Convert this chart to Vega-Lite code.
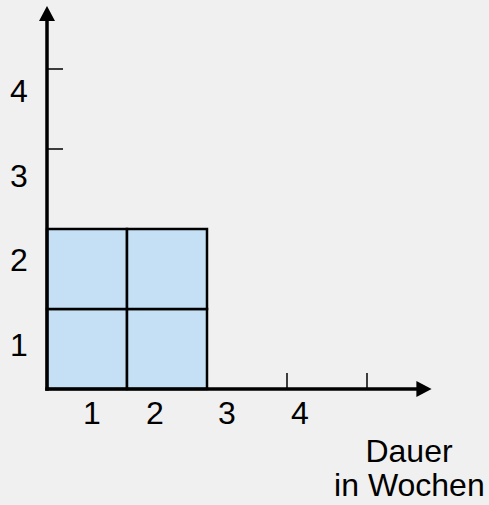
{
  "$schema": "https://vega.github.io/schema/vega-lite/v6.json",
  "width": 489,
  "height": 505,
  "autosize": "none",
  "padding": 0,
  "background": "#f0f0f0",
  "config": {"view": {"stroke": null}},
  "datasets": {
    "cells": [
      {"x0": 0, "x1": 1, "y0": 0, "y1": 1},
      {"x0": 1, "x1": 2, "y0": 0, "y1": 1},
      {"x0": 0, "x1": 1, "y0": 1, "y1": 2},
      {"x0": 1, "x1": 2, "y0": 1, "y1": 2}
    ],
    "axes": [
      {"x0": 0, "x1": 4.65, "y0": 0, "y1": 0},
      {"x0": 0, "x1": 0, "y0": 0, "y1": 4.62}
    ],
    "ticks": [
      {"x0": 3, "x1": 3, "y0": 0, "y1": 0.2},
      {"x0": 4, "x1": 4, "y0": 0, "y1": 0.2},
      {"x0": 0, "x1": 0.2, "y0": 3, "y1": 3},
      {"x0": 0, "x1": 0.2, "y0": 4, "y1": 4}
    ],
    "arrows": [
      {"x": 4.7125, "y": 0, "dir": "right"},
      {"x": 0, "y": 4.694, "dir": "up"}
    ],
    "labels": [
      {"x": 0.5625, "y": -0.4375, "text": "1"},
      {"x": 1.35, "y": -0.4375, "text": "2"},
      {"x": 2.25, "y": -0.4375, "text": "3"},
      {"x": 3.1625, "y": -0.4375, "text": "4"},
      {"x": -0.35, "y": 0.4125, "text": "1"},
      {"x": -0.35, "y": 1.475, "text": "2"},
      {"x": -0.35, "y": 2.525, "text": "3"},
      {"x": -0.35, "y": 3.5875, "text": "4"},
      {"x": 4.525, "y": -0.9125, "text": "Dauer"},
      {"x": 4.53, "y": -1.3375, "text": "in Wochen"}
    ]
  },
  "encoding": {},
  "layer": [
    {
      "data": {"name": "cells"},
      "mark": {"type": "rect", "fill": "#c5e0f4", "stroke": "#000000", "strokeWidth": 2.5},
      "encoding": {
        "x": {"field": "x0", "type": "quantitative", "scale": {"domain": [-0.5875, 5.525], "nice": false, "zero": false}, "axis": null},
        "x2": {"field": "x1"},
        "y": {"field": "y0", "type": "quantitative", "scale": {"domain": [-1.45, 4.8625], "nice": false, "zero": false}, "axis": null},
        "y2": {"field": "y1"}
      }
    },
    {
      "data": {"name": "axes"},
      "mark": {"type": "rule", "color": "#000000", "strokeWidth": 3.5, "strokeCap": "square"},
      "encoding": {
        "x": {"field": "x0", "type": "quantitative"},
        "x2": {"field": "x1"},
        "y": {"field": "y0", "type": "quantitative"},
        "y2": {"field": "y1"}
      }
    },
    {
      "data": {"name": "ticks"},
      "mark": {"type": "rule", "color": "#000000", "strokeWidth": 1.5},
      "encoding": {
        "x": {"field": "x0", "type": "quantitative"},
        "x2": {"field": "x1"},
        "y": {"field": "y0", "type": "quantitative"},
        "y2": {"field": "y1"}
      }
    },
    {
      "data": {"name": "arrows"},
      "transform": [{"filter": "datum.dir === 'right'"}],
      "mark": {"type": "point", "filled": true, "color": "#000000", "opacity": 1, "size": 256, "shape": "M-0.95,-1L0.95,0L-0.95,1Z"},
      "encoding": {
        "x": {"field": "x", "type": "quantitative"},
        "y": {"field": "y", "type": "quantitative"}
      }
    },
    {
      "data": {"name": "arrows"},
      "transform": [{"filter": "datum.dir === 'up'"}],
      "mark": {"type": "point", "filled": true, "color": "#000000", "opacity": 1, "size": 256, "shape": "M-1,0.95L0,-0.95L1,0.95Z"},
      "encoding": {
        "x": {"field": "x", "type": "quantitative"},
        "y": {"field": "y", "type": "quantitative"}
      }
    },
    {
      "data": {"name": "labels"},
      "mark": {"type": "text", "font": "Liberation Sans", "fontSize": 32, "color": "#000000", "align": "center", "baseline": "alphabetic"},
      "encoding": {
        "x": {"field": "x", "type": "quantitative"},
        "y": {"field": "y", "type": "quantitative"},
        "text": {"field": "text"}
      }
    }
  ]
}
